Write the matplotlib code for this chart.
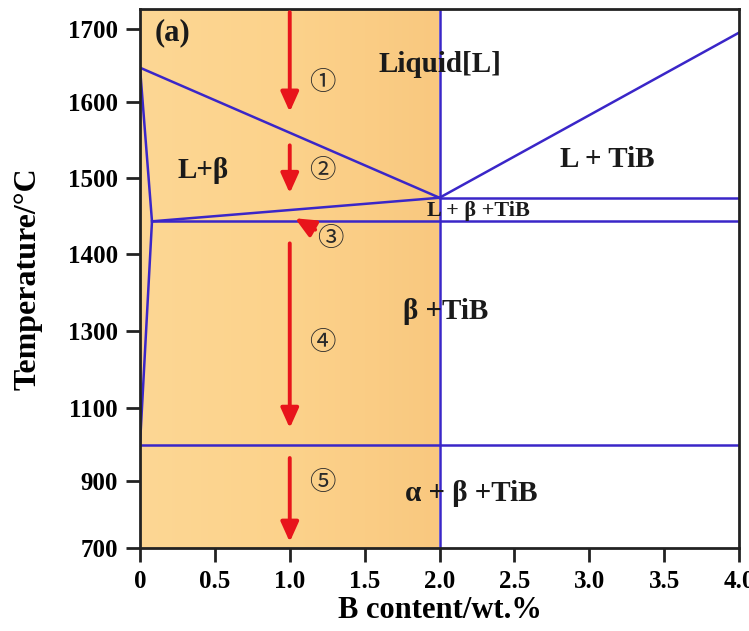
import numpy as np
import matplotlib
matplotlib.use('Agg')
import matplotlib.pyplot as plt
from matplotlib.colors import LinearSegmentedColormap

plt.rcParams['font.family'] = ['Liberation Serif', 'DejaVu Serif']
plt.rcParams['font.weight'] = 'bold'

# y axis of the original is not linear: tick values and their drawn positions
y_ticks = [700, 900, 1100, 1300, 1400, 1500, 1600, 1700]
y_pos = [548, 481, 408, 331, 254, 178, 102, 29]   # pixel rows in the figure
x_ticks = [0, 0.5, 1.0, 1.5, 2.0, 2.5, 3.0, 3.5, 4.0]
x_ticklabels = ['0', '0.5', '1.0', '1.5', '2.0', '2.5', '3.0', '3.5', '4.0']

# phase boundaries (B wt.%, temperature °C)
liquidus_x = [0, 2.0]
liquidus_y = [1647, 1474]
tib_liq_x = [2.0, 4.0]
tib_liq_y = [1474, 1695]
solidus_x = [0.08, 2.0]
solidus_y = [1443, 1474]
eutectic_x = [2.0, 4.0]
eutectic_y = [1474, 1474]
lower_x = [0.08, 4.0]
lower_y = [1443, 1443]
solvus_x = [0, 0.08, 0]
solvus_y = [1647, 1443, 1000]
transus_x = [0, 4.0]
transus_y = [1000, 1000]
comp_x = [2.0, 2.0]
comp_y = [700, 1730]

# cooling path arrows: (x0, y0) -> (x1, y1)
arrows = [
    (1.0, 1723, 1.0, 1587),
    (1.0, 1543, 1.0, 1480),
    (1.17, 1432, 1.035, 1447),
    (1.0, 1414, 1.0, 1045),
    (1.0, 963, 1.0, 718),
]
steps = ['①', '②', '③', '④', '⑤']
step_x = [1.22, 1.22, 1.27, 1.22, 1.22]
step_y = [1627, 1510, 1421, 1271, 897]

regions = ['(a)', 'Liquid[L]', 'L+β', 'L + TiB', 'L + β +TiB', 'β +TiB', 'α + β +TiB']
region_x = [0.22, 2.0, 0.42, 3.12, 2.26, 2.04, 2.21]
region_y = [1695, 1651, 1510, 1524, 1457, 1325, 864]
region_size = [22, 21, 21, 21, 16, 21, 21]

# piecewise linear scale that follows the original tick spacing
T = np.array([500] + y_ticks + [1900], dtype=float)
P = np.array(y_pos, dtype=float)
P = np.concatenate([[P[0] + (P[0] - P[1]) / 200 * 200], P, [P[-1] - (P[-2] - P[-1]) / 100 * 200]])


def fwd(v):
    return np.interp(v, T, -P)


def inv(u):
    return np.interp(u, -P, T)


fig = plt.figure(figsize=(7.49, 6.31), dpi=100)
ax = fig.add_axes([140 / 749, 1 - 548 / 631, 599 / 749, 539 / 631])
ax.set_yscale('function', functions=(fwd, inv))
ymax = inv(-9)
ax.set_xlim(0, 4.0)
ax.set_ylim(700, ymax)

# orange shaded composition region
cmap = LinearSegmentedColormap.from_list('orange', ['#FDD794', '#FCD28B', '#F9C87F'])
grad = np.linspace(0, 1, 200).reshape(1, -1)
ax.imshow(grad, cmap=cmap, extent=[0, 2.0, 700, ymax], aspect='auto', zorder=0)

line_c = '#3A26C8'
for xs, ys in [(liquidus_x, liquidus_y), (tib_liq_x, tib_liq_y), (solidus_x, solidus_y),
               (eutectic_x, eutectic_y), (lower_x, lower_y), (solvus_x, solvus_y),
               (transus_x, transus_y), (comp_x, comp_y)]:
    ax.plot(xs, ys, color=line_c, lw=1.8, zorder=2, clip_on=True)

for x0, y0, x1, y1 in arrows:
    ax.annotate('', xy=(x1, y1), xytext=(x0, y0),
                arrowprops=dict(arrowstyle='-|>,head_width=0.27,head_length=0.6',
                                color='#E8141B', lw=2.8, mutation_scale=20,
                                shrinkA=0, shrinkB=0), zorder=3)

for s, x, y in zip(steps, step_x, step_y):
    ax.text(x, y, s, fontsize=19, ha='center', va='center', color='#2a2a2a',
            family=['Noto Sans CJK SC', 'DejaVu Sans'], fontweight='normal')

for s, x, y, fs in zip(regions, region_x, region_y, region_size):
    ax.text(x, y, s, fontsize=fs, ha='center', va='center', color='#1a1a1a',
            fontweight='bold', zorder=4)

ax.set_yticks(y_ticks)
ax.set_yticklabels([str(t) for t in y_ticks])
ax.set_xticks(x_ticks)
ax.set_xticklabels(x_ticklabels)
ax.minorticks_off()
ax.tick_params(direction='out', length=10, width=2, labelsize=18, color='#222222', pad=6)
for sp in ax.spines.values():
    sp.set_linewidth(2)
    sp.set_color('#222222')

ax.set_xlabel('B content/wt.%', fontsize=22, fontweight='bold', labelpad=2)
ax.set_ylabel('Temperature/°C', fontsize=23, fontweight='bold', labelpad=18)

fig.savefig('out.png', dpi=100)
